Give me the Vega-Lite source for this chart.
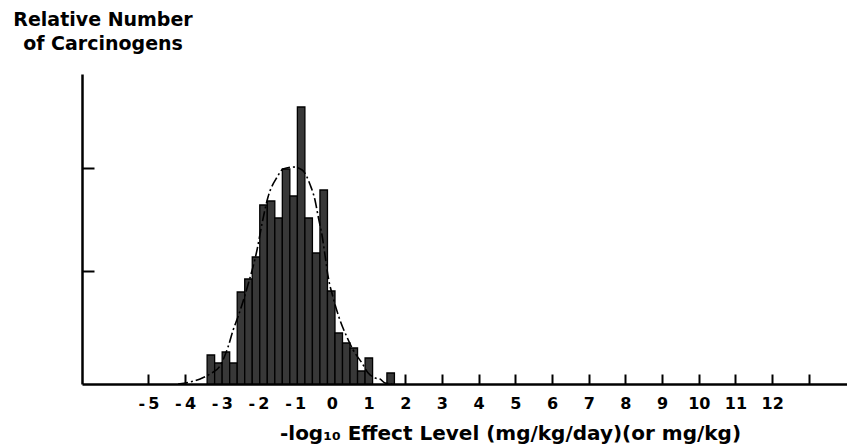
{
  "$schema": "https://vega.github.io/schema/vega-lite/v6.json",
  "width": 765,
  "height": 310,
  "autosize": {"type": "none"},
  "padding": {"left": 82, "top": 74, "right": 0, "bottom": 61},
  "background": "white",
  "config": {"view": {"stroke": null}, "font": "DejaVu Sans"},
  "title": {
    "text": ["Relative Number", "of Carcinogens"],
    "anchor": "start",
    "frame": "group",
    "align": "center",
    "dx": 21,
    "offset": 20,
    "font": "DejaVu Sans",
    "fontSize": 19,
    "fontWeight": "bold",
    "color": "black",
    "lineHeight": 24
  },
  "datasets": {
    "bins": [
      {"lo": -3.4, "hi": -3.195, "n": 29},
      {"lo": -3.195, "hi": -2.99, "n": 21},
      {"lo": -2.99, "hi": -2.785, "n": 32},
      {"lo": -2.785, "hi": -2.58, "n": 21},
      {"lo": -2.58, "hi": -2.375, "n": 92},
      {"lo": -2.375, "hi": -2.17, "n": 105},
      {"lo": -2.17, "hi": -1.965, "n": 127},
      {"lo": -1.965, "hi": -1.76, "n": 179},
      {"lo": -1.76, "hi": -1.555, "n": 183},
      {"lo": -1.555, "hi": -1.35, "n": 166},
      {"lo": -1.35, "hi": -1.145, "n": 215},
      {"lo": -1.145, "hi": -0.94, "n": 188},
      {"lo": -0.94, "hi": -0.735, "n": 277},
      {"lo": -0.735, "hi": -0.53, "n": 166},
      {"lo": -0.53, "hi": -0.325, "n": 131},
      {"lo": -0.325, "hi": -0.12, "n": 194},
      {"lo": -0.12, "hi": 0.085, "n": 93},
      {"lo": 0.085, "hi": 0.29, "n": 51},
      {"lo": 0.29, "hi": 0.495, "n": 41},
      {"lo": 0.495, "hi": 0.7, "n": 36},
      {"lo": 0.7, "hi": 0.905, "n": 13},
      {"lo": 0.905, "hi": 1.11, "n": 26},
      {"lo": 1.5, "hi": 1.705, "n": 11}
    ],
    "fit": [
      {"x": -4.19, "y": 0},
      {"x": -3.86, "y": 2},
      {"x": -3.59, "y": 5},
      {"x": -3.32, "y": 10},
      {"x": -3.05, "y": 18},
      {"x": -2.83, "y": 37},
      {"x": -2.69, "y": 54},
      {"x": -2.56, "y": 67},
      {"x": -2.28, "y": 100},
      {"x": -2.04, "y": 134},
      {"x": -1.9, "y": 161},
      {"x": -1.74, "y": 187},
      {"x": -1.49, "y": 207},
      {"x": -1.33, "y": 215},
      {"x": -1.06, "y": 217},
      {"x": -0.81, "y": 214},
      {"x": -0.59, "y": 199},
      {"x": -0.46, "y": 184},
      {"x": -0.37, "y": 167},
      {"x": -0.26, "y": 147},
      {"x": -0.18, "y": 127},
      {"x": -0.1, "y": 107},
      {"x": 0.03, "y": 87},
      {"x": 0.22, "y": 64},
      {"x": 0.41, "y": 47},
      {"x": 0.58, "y": 34},
      {"x": 0.82, "y": 21},
      {"x": 0.99, "y": 11},
      {"x": 1.18, "y": 6},
      {"x": 1.31, "y": 5},
      {"x": 1.45, "y": 1},
      {"x": 1.64, "y": 0}
    ]
  },
  "layer": [
    {
      "data": {"name": "bins"},
      "mark": {"type": "rect", "fill": "#383838", "stroke": "black", "strokeWidth": 1.3},
      "encoding": {
        "x": {
          "field": "lo",
          "type": "quantitative",
          "scale": {"domain": [-6.81, 14.04], "nice": false, "zero": false},
          "axis": {
            "values": [-5, -4, -3, -2, -1, 0, 1, 2, 3, 4, 5, 6, 7, 8, 9, 10, 11, 12, 13],
            "labelExpr": "datum.value == 13 ? '' : (datum.value < 0 ? '-\u2009' + toString(-datum.value) : toString(datum.value))",
            "grid": false,
            "domainColor": "black",
            "domainWidth": 2.5,
            "tickColor": "black",
            "tickWidth": 2,
            "tickSize": -10,
            "labelFont": "DejaVu Sans",
            "labelFontSize": 16,
            "labelFontWeight": "bold",
            "labelColor": "black",
            "labelPadding": 21,
            "labelFlush": false,
            "labelOverlap": false,
            "title": "-log₁₀ Effect Level (mg/kg/day)(or mg/kg)",
            "titleFont": "DejaVu Sans",
            "titleFontSize": 20,
            "titleFontWeight": "bold",
            "titleColor": "black",
            "titleAlign": "center",
            "titleBaseline": "alphabetic",
            "titleX": 428,
            "titleY": 55
          }
        },
        "x2": {"field": "hi"},
        "y": {
          "field": "n",
          "type": "quantitative",
          "scale": {"domain": [0, 310], "nice": false},
          "axis": {
            "values": [113, 216],
            "labels": false,
            "grid": false,
            "title": null,
            "domainColor": "black",
            "domainWidth": 2.5,
            "tickColor": "black",
            "tickWidth": 2,
            "tickSize": -12
          }
        },
        "y2": {"datum": 0}
      }
    },
    {
      "data": {"name": "fit"},
      "mark": {"type": "line", "stroke": "black", "strokeWidth": 1.6, "strokeDash": [10, 3, 2, 3], "interpolate": "monotone"},
      "encoding": {
        "x": {"field": "x", "type": "quantitative"},
        "y": {"field": "y", "type": "quantitative"}
      }
    }
  ]
}
